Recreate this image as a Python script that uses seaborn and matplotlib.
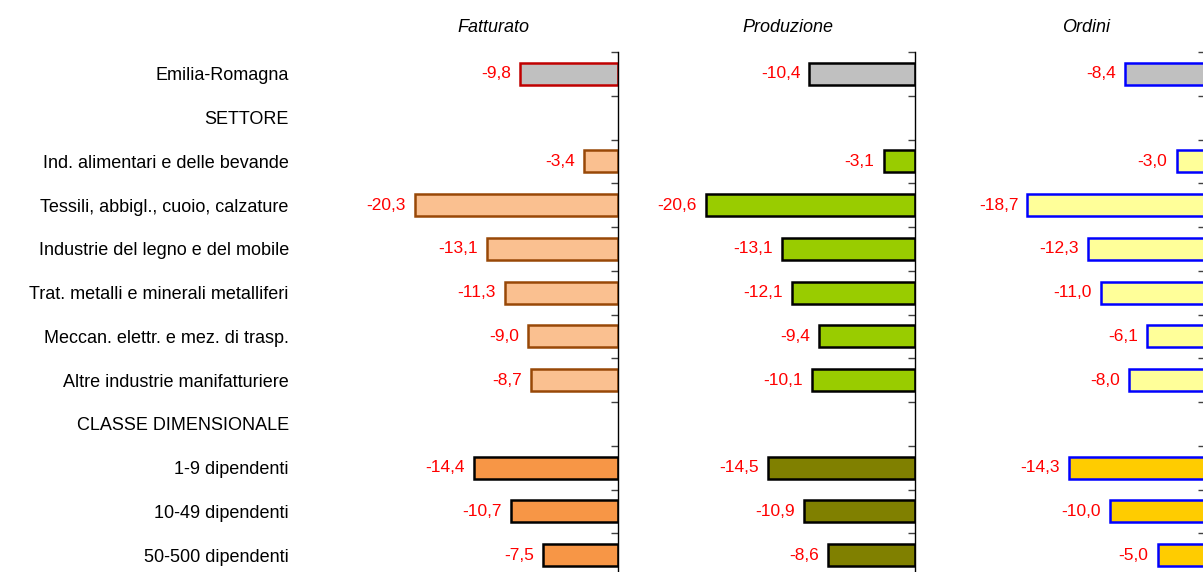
import numpy as np
import pandas as pd
import matplotlib
matplotlib.use("Agg")
import matplotlib.pyplot as plt
import seaborn as sns

CATEGORIES = [
    "Emilia-Romagna",
    "SETTORE",
    "Ind. alimentari e delle bevande",
    "Tessili, abbigl., cuoio, calzature",
    "Industrie del legno e del mobile",
    "Trat. metalli e minerali metalliferi",
    "Meccan. elettr. e mez. di trasp.",
    "Altre industrie manifatturiere",
    "CLASSE DIMENSIONALE",
    "1-9 dipendenti",
    "10-49 dipendenti",
    "50-500 dipendenti",
]
FATTURATO = [-9.8, None, -3.4, -20.3, -13.1, -11.3, -9.0, -8.7, None, -14.4, -10.7, -7.5]
PRODUZIONE = [-10.4, None, -3.1, -20.6, -13.1, -12.1, -9.4, -10.1, None, -14.5, -10.9, -8.6]
ORDINI = [-8.4, None, -3.0, -18.7, -12.3, -11.0, -6.1, -8.0, None, -14.3, -10.0, -5.0]
PANEL_TITLES = ["Fatturato", "Produzione", "Ordini"]

# row groups: 0 = total, 1 = settore, 2 = classe dimensionale
ROW_GROUP = [0, None, 1, 1, 1, 1, 1, 1, None, 2, 2, 2]

# per panel: (facecolor per group, edgecolor per group)
PANEL_STYLE = [
    (["#C0C0C0", "#FAC090", "#F79646"], ["#C00000", "#984807", "#000000"]),
    (["#C0C0C0", "#99CC00", "#808000"], ["#000000", "#000000", "#000000"]),
    (["#C0C0C0", "#FFFF99", "#FFCC00"], ["#0000FF", "#0000FF", "#0000FF"]),
]

# axes placement in figure fraction (left, width)
PANEL_POS = [(368 / 1203, 250 / 1203), (661 / 1203, 254 / 1203), (967.5 / 1203, 237.5 / 1203)]

FONT = ["Liberation Sans", "DejaVu Sans"]
FS = 13


def make_frame(values):
    df = pd.DataFrame({"categoria": CATEGORIES, "valore": values})
    return df.dropna()


def draw_panel(ax, values, title, style, show_labels):
    df = make_frame(values)
    sns.barplot(data=df, x="valore", y="categoria", order=CATEGORIES,
                orient="h", width=0.5, color="#C0C0C0", errorbar=None, ax=ax)
    faces, edges = style
    for p in ax.patches:
        w = p.get_width()
        if np.isnan(w):
            continue
        row = int(round(p.get_y() + p.get_height() / 2))
        g = ROW_GROUP[row]
        p.set_facecolor(faces[g])
        p.set_edgecolor(edges[g])
        p.set_linewidth(1.8)
        ax.annotate(f"{w:.1f}".replace(".", ","),
                    xy=(w, row), xytext=(-6.5, 0), textcoords="offset points",
                    ha="right", va="center", color="#FF0000",
                    fontsize=FS - 0.5, family=FONT)

    ax.set_xlim(-25, 0)
    ax.set_ylim(len(CATEGORIES) - 0.5, -0.5)
    for side in ["left", "top", "bottom"]:
        ax.spines[side].set_visible(False)
    ax.spines["right"].set_visible(True)
    ax.spines["right"].set_color("black")
    ax.spines["right"].set_linewidth(1.0)

    ax.set_xlabel("")
    ax.set_ylabel("")
    ax.set_xticks([])

    ax.set_yticks(range(len(CATEGORIES)))
    if show_labels:
        ax.set_yticklabels(CATEGORIES, fontsize=FS, family=FONT, color="black")
    else:
        ax.set_yticklabels([])
    ax.tick_params(axis="y", which="major", length=0, pad=57, left=True, right=False)
    ax.set_yticks(np.arange(-0.5, len(CATEGORIES), 1.0), minor=True)
    ax.tick_params(axis="y", which="minor", left=False, right=True,
                   direction="in", length=5, width=1.0, color="#404040")

    ax.text(0.5, 1.046, title, transform=ax.transAxes, ha="center", va="center",
            fontsize=FS, style="italic", family=FONT, color="black")


def main():
    sns.set_style("white")
    plt.rcParams["font.family"] = FONT
    plt.rcParams["text.color"] = "black"
    plt.rcParams["ytick.color"] = "black"

    fig = plt.figure(figsize=(12.03, 5.72), dpi=100)
    bottom = (572 - 577) / 572
    height = 525 / 572

    series = [FATTURATO, PRODUZIONE, ORDINI]
    for i, values in enumerate(series):
        left, width = PANEL_POS[i]
        ax = fig.add_axes([left, bottom, width, height])
        draw_panel(ax, values, PANEL_TITLES[i], PANEL_STYLE[i], show_labels=(i == 0))

    fig.savefig("out.png", dpi=100)


if __name__ == "__main__":
    main()
